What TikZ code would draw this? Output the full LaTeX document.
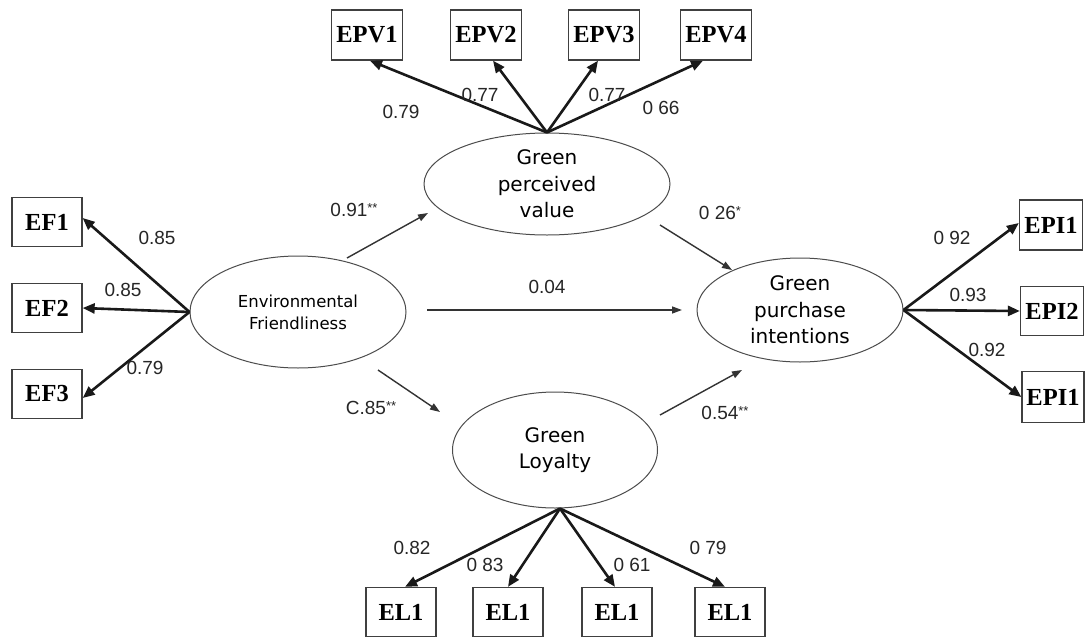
\documentclass[tikz,border=0pt]{standalone}
\usepackage{fontspec}
\setmainfont{Liberation Serif}
\newfontfamily\lblfont{Liberation Sans}
\newfontfamily\elfont{DejaVu Sans}
\usetikzlibrary{shapes.geometric,arrows.meta}
\begin{document}
\begin{tikzpicture}[x=1pt,y=-1pt,
  obs/.style={draw=black!75, line width=1.3pt, minimum width=70pt, minimum height=49pt, inner sep=0pt, font=\fontsize{24.5}{24.5}\selectfont\bfseries},
  lat/.style={ellipse, draw=black!70, line width=1pt, inner sep=0pt, align=center, font=\elfont\fontsize{20}{26.5}\selectfont},
  load/.style={line width=2.6pt, draw=black!90, -{Triangle[length=12pt,width=10pt]}},
  reg/.style={line width=1.4pt, draw=black!80, -{Triangle[length=10pt,width=7pt]}},
  lbl/.style={font=\lblfont\fontsize{19}{19}\selectfont, text=black!85, inner sep=0pt}
]
\useasboundingbox (0,0) rectangle (1086,637);
\fill[white] (0,0) rectangle (1086,637);

% latent variables
\node[lat, minimum width=216pt, minimum height=112pt, font=\elfont\fontsize{16.5}{22}\selectfont] (EF) at (298,312) {Environmental\\Friendliness};
\node[lat, minimum width=246pt, minimum height=102pt] (GPV) at (547,184) {Green\\perceived\\value};
\node[lat, minimum width=206pt, minimum height=104pt] (GPI) at (800,310) {Green\\purchase\\intentions};
\node[lat, minimum width=205pt, minimum height=116pt] (GL) at (555,450) {Green\\Loyalty};

% observed variables
\node[obs, minimum width=71pt, minimum height=50pt] (EPV1) at (367,35) {EPV1};
\node[obs, minimum width=71pt, minimum height=50pt] (EPV2) at (486,35) {EPV2};
\node[obs, minimum width=71pt, minimum height=50pt] (EPV3) at (604,35) {EPV3};
\node[obs, minimum width=71pt, minimum height=50pt] (EPV4) at (716,35) {EPV4};

\node[obs] (EF1) at (47,222) {EF1};
\node[obs] (EF2) at (47,308) {EF2};
\node[obs] (EF3) at (47,394) {EF3};

\node[obs, minimum width=63pt, minimum height=50pt] (EPIa) at (1051,225) {EPI1};
\node[obs, minimum width=63pt, minimum height=49pt] (EPIb) at (1052,311) {EPI2};
\node[obs, minimum width=62pt, minimum height=51pt] (EPIc) at (1053,397) {EPI1};

\node[obs] (ELa) at (401,612) {EL1};
\node[obs] (ELb) at (508,612) {EL1};
\node[obs] (ELc) at (617,612) {EL1};
\node[obs] (ELd) at (730,612) {EL1};

% loadings
\draw[load] (GPV.north) -- ([xshift=3pt]EPV1.south);
\draw[load] (GPV.north) -- ([xshift=7pt]EPV2.south);
\draw[load] (GPV.north) -- ([xshift=-6pt]EPV3.south);
\draw[load] (GPV.north) -- ([xshift=-13pt]EPV4.south);

\draw[load] (EF.west) -- ([yshift=4pt]EF1.east);
\draw[load] (EF.west) -- (EF2.east);
\draw[load] (EF.west) -- ([yshift=-4pt]EF3.east);

\draw[load] (GPI.east) -- ([yshift=2pt]EPIa.west);
\draw[load] (GPI.east) -- (EPIb.west);
\draw[load] (GPI.east) -- (EPIc.west);

\draw[load] ([xshift=5pt]GL.south) -- ([xshift=4pt]ELa.north);
\draw[load] ([xshift=5pt]GL.south) -- (ELb.north);
\draw[load] ([xshift=5pt]GL.south) -- ([xshift=-2pt]ELc.north);
\draw[load] ([xshift=5pt]GL.south) -- ([xshift=-5pt]ELd.north);

% structural paths
\coordinate (p1s) at (347,258); \coordinate (p1e) at (428,213);
\coordinate (p2s) at (378,370); \coordinate (p2e) at (440,412);
\coordinate (p3s) at (427,310); \coordinate (p3e) at (682,310);
\coordinate (p4s) at (660,225); \coordinate (p4e) at (732,270);
\coordinate (p5s) at (660,415); \coordinate (p5e) at (742,370);
\draw[reg] (p1s) -- (p1e);
\draw[reg] (p2s) -- (p2e);
\draw[reg] (p3s) -- (p3e);
\draw[reg] (p4s) -- (p4e);
\draw[reg] (p5s) -- (p5e);

% labels
\node[lbl] (l1) at (401,112) {0.79};
\node[lbl] (l2) at (480,95) {0.77};
\node[lbl] (l3) at (607,95) {0.77};
\node[lbl] (l4) at (661,108) {0 66};
\node[lbl] (l5) at (157,238) {0.85};
\node[lbl] (l6) at (123,290) {0.85};
\node[lbl] (l7) at (145,368) {0.79};
\node[lbl] (l8) at (354,210) {0.91{\fontsize{13}{13}\selectfont\raisebox{4pt}{**}}};
\node[lbl] (l9) at (371,408) {C.85{\fontsize{13}{13}\selectfont\raisebox{4pt}{**}}};
\node[lbl] (l10) at (720,213) {0 26{\fontsize{13}{13}\selectfont\raisebox{4pt}{*}}};
\node[lbl] (l11) at (725,413) {0.54{\fontsize{13}{13}\selectfont\raisebox{4pt}{**}}};
\node[lbl] (l12) at (547,287) {0.04};
\node[lbl] (l13) at (952,238) {0 92};
\node[lbl] (l14) at (968,295) {0.93};
\node[lbl] (l15) at (987,350) {0.92};
\node[lbl] (l16) at (412,548) {0.82};
\node[lbl] (l17) at (485,565) {0 83};
\node[lbl] (l18) at (632,565) {0 61};
\node[lbl] (l19) at (708,548) {0 79};
\end{tikzpicture}
\end{document}
